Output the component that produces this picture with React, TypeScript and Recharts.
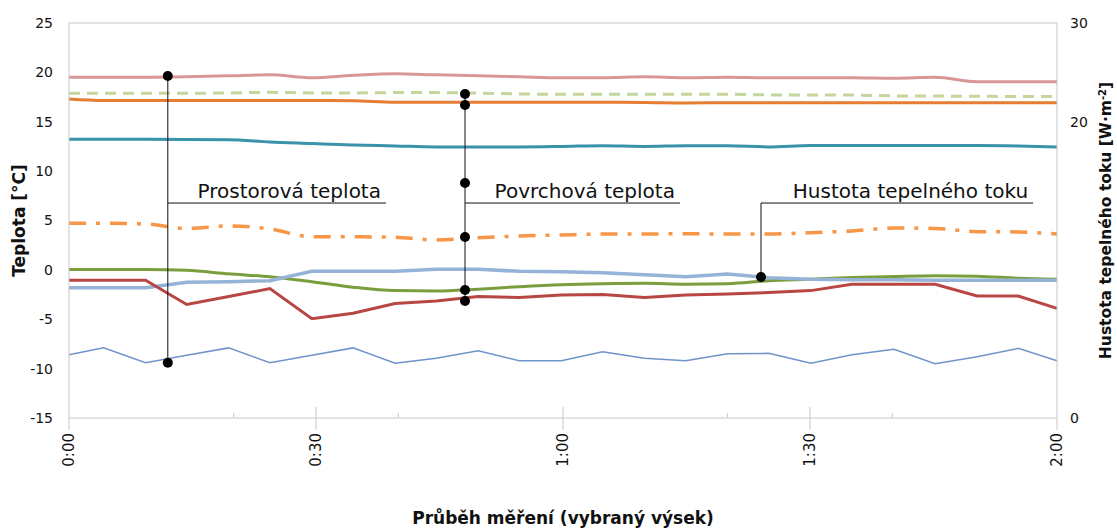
import { LineChart, Line, XAxis, YAxis, ReferenceLine, ReferenceDot, Label } from "recharts";

const FONT = "'DejaVu Sans', Verdana, sans-serif";
const AXIS = "#c6c6c6";

// measurement times in minutes (0:00 – 2:00)
const minutes = [0, 4.2, 9.3, 14.3, 19.4, 24.4, 29.5, 34.5, 39.6, 44.6, 49.7, 54.7, 59.8, 64.8, 69.9, 74.9, 80.0, 85.0, 90.1, 95.1, 100.2, 105.2, 110.3, 115.3, 120];

// temperatures [°C]
const airInside = [19.5, 19.5, 19.5, 19.55, 19.65, 19.75, 19.45, 19.7, 19.85, 19.75, 19.65, 19.55, 19.45, 19.45, 19.55, 19.45, 19.5, 19.45, 19.45, 19.45, 19.4, 19.5, 19.05, 19.05, 19.05];
const surfaceA = [17.88, 17.88, 17.88, 17.88, 17.92, 17.98, 17.92, 17.92, 17.95, 17.95, 17.9, 17.82, 17.78, 17.78, 17.78, 17.78, 17.78, 17.72, 17.72, 17.7, 17.62, 17.6, 17.58, 17.56, 17.56];
const surfaceB = [17.3, 17.15, 17.15, 17.15, 17.15, 17.15, 17.15, 17.12, 16.98, 16.97, 16.97, 16.97, 16.97, 16.97, 16.95, 16.9, 16.93, 16.93, 16.93, 16.93, 16.93, 16.93, 16.93, 16.93, 16.93];
const surfaceC = [13.22, 13.22, 13.22, 13.2, 13.18, 12.95, 12.8, 12.65, 12.55, 12.45, 12.45, 12.45, 12.5, 12.58, 12.5, 12.58, 12.58, 12.45, 12.6, 12.6, 12.6, 12.6, 12.6, 12.55, 12.45];
const surfaceD = [4.72, 4.72, 4.65, 4.2, 4.45, 4.15, 3.35, 3.35, 3.3, 3.03, 3.26, 3.43, 3.53, 3.63, 3.63, 3.66, 3.63, 3.63, 3.77, 3.94, 4.24, 4.2, 3.87, 3.84, 3.63];
const surfaceE = [0.05, 0.05, 0.05, -0.05, -0.4, -0.7, -1.2, -1.75, -2.1, -2.15, -1.95, -1.7, -1.5, -1.4, -1.35, -1.45, -1.4, -1.1, -0.95, -0.78, -0.67, -0.59, -0.65, -0.85, -0.96];
const surfaceF = [-1.05, -1.05, -1.05, -3.5, -2.7, -1.9, -4.95, -4.4, -3.4, -3.15, -2.7, -2.8, -2.55, -2.5, -2.8, -2.55, -2.45, -2.3, -2.1, -1.45, -1.45, -1.45, -2.65, -2.65, -3.9];
const airOutside = [-8.6, -7.9, -9.4, -8.65, -7.9, -9.4, -8.65, -7.9, -9.45, -8.95, -8.2, -9.2, -9.2, -8.3, -8.95, -9.2, -8.5, -8.45, -9.45, -8.6, -8.05, -9.5, -8.8, -7.95, -9.2];
// heat flux [W·m-2], right axis
const heatFlux = [9.9, 9.9, 9.9, 10.31, 10.35, 10.43, 11.14, 11.14, 11.14, 11.29, 11.29, 11.14, 11.1, 11.03, 10.88, 10.73, 10.94, 10.65, 10.53, 10.5, 10.5, 10.46, 10.46, 10.46, 10.46];

const leftTicks = [-15, -10, -5, 0, 5, 10, 15, 20, 25];
// right axis labels sit where the original chart prints them
const rightTicks = [0, 22.5, 30];
const rightTickLabels = ["0", "20", "30"];
const xMajor = [0, 30, 60, 90, 120];
const xMajorLabels = ["0:00", "0:30", "1:00", "1:30", "2:00"];
const xMinor = [20, 40, 80, 100];

// annotation callouts (minutes, °C)
const roomMark = { t: 12, top: 19.63, bottom: -9.4, end: 38.5, text: "Prostorová teplota" };
const surfMark = { t: 48.1, dots: [17.81, 16.7, 8.8, 3.33, -2.04, -3.15], end: 74.2, text: "Povrchová teplota" };
const fluxMark = { t: 84.05, dot: -0.72, end: 117.1, text: "Hustota tepelného toku" };
const calloutLevel = 6.77;

const data = minutes.map((t, i) => ({
  t,
  airInside: airInside[i],
  surfaceA: surfaceA[i],
  surfaceB: surfaceB[i],
  surfaceC: surfaceC[i],
  surfaceD: surfaceD[i],
  surfaceE: surfaceE[i],
  surfaceF: surfaceF[i],
  airOutside: airOutside[i],
  heatFlux: heatFlux[i],
}));

const XTick = (props: any) => {
  const { x, y, payload } = props;
  const v = payload.value;
  const idx = xMajor.indexOf(v);
  if (idx < 0) return <line x1={x} x2={x} y1={y - 5} y2={y} stroke={AXIS} />;
  const edge = v === 0 || v === 120;
  return (
    <g>
      <line x1={x} x2={x} y1={edge ? y : y - 11} y2={y + 12} stroke={AXIS} />
      <text transform={`translate(${x + 5},${y + 15}) rotate(-90)`} textAnchor="end" fontSize={15} fontFamily={FONT} fill="#111">
        {xMajorLabels[idx]}
      </text>
    </g>
  );
};

const calloutLabel = (text: string) => ({
  value: text,
  position: "insideBottomRight" as const,
  offset: 5,
  fontSize: 20,
  fontFamily: FONT,
  fill: "#111",
});

export default function App() {
  return (
    <div style={{ position: "absolute", left: 0, top: 0, background: "#fff" }}>
      <LineChart width={1117} height={530} data={data} margin={{ top: 23, right: 0, bottom: 0, left: 0 }}>
        <XAxis
          dataKey="t"
          type="number"
          domain={[0, 120]}
          ticks={[...xMajor, ...xMinor].sort((a, b) => a - b)}
          interval={0}
          height={112}
          tickSize={0}
          tickMargin={0}
          tickLine={false}
          axisLine={{ stroke: AXIS }}
          tick={<XTick />}
        >
          <Label
            content={(p: any) => {
              const vb = p.viewBox || { x: 69, y: 418, width: 988, height: 112 };
              return (
                <text x={vb.x + vb.width / 2} y={vb.y + 106} textAnchor="middle" fontSize={17} fontWeight="bold" fontFamily={FONT} fill="#111">
                  Průběh měření (vybraný výsek)
                </text>
              );
            }}
          />
        </XAxis>
        <YAxis
          yAxisId="left"
          domain={[-15, 25]}
          ticks={leftTicks}
          interval={0}
          width={69}
          tickSize={0}
          tickMargin={16}
          tickLine={false}
          axisLine={{ stroke: AXIS }}
          tick={{ fontSize: 14, fontFamily: FONT, fill: "#111" }}
        >
          <Label
            content={(p: any) => {
              const vb = p.viewBox || { x: 0, y: 23, width: 69, height: 395 };
              const cx = vb.x + 25;
              const cy = vb.y + vb.height / 2;
              return (
                <text transform={`translate(${cx},${cy}) rotate(-90)`} textAnchor="middle" fontSize={17} fontWeight="bold" fontFamily={FONT} fill="#111">
                  Teplota [°C]
                </text>
              );
            }}
          />
        </YAxis>
        <YAxis
          yAxisId="right"
          orientation="right"
          domain={[0, 30]}
          ticks={rightTicks}
          tickFormatter={(v: number) => rightTickLabels[rightTicks.indexOf(v)] ?? String(v)}
          interval={0}
          width={60}
          tickSize={0}
          tickMargin={13}
          tickLine={false}
          axisLine={{ stroke: AXIS }}
          tick={{ fontSize: 14, fontFamily: FONT, fill: "#111" }}
        >
          <Label
            content={(p: any) => {
              const vb = p.viewBox || { x: 1057, y: 23, width: 60, height: 395 };
              const cx = vb.x + 54;
              const cy = vb.y + vb.height / 2;
              return (
                <text transform={`translate(${cx},${cy}) rotate(-90)`} textAnchor="middle" fontSize={15.5} fontWeight="bold" fontFamily={FONT} fill="#111">
                  Hustota tepelného toku [W·m<tspan dy={-5} fontSize={10}>-2</tspan><tspan dy={5}>]</tspan>
                </text>
              );
            }}
          />
        </YAxis>

        <ReferenceLine yAxisId="left" y={25} stroke={AXIS} />

        <Line yAxisId="left" dataKey="airInside" type="monotone" stroke="#d99694" strokeWidth={3} dot={false} isAnimationActive={false} />
        <Line yAxisId="left" dataKey="surfaceA" type="monotone" stroke="#c3d69b" strokeWidth={3} strokeDasharray="11 7" dot={false} isAnimationActive={false} />
        <Line yAxisId="left" dataKey="surfaceB" type="monotone" stroke="#e57e32" strokeWidth={3} dot={false} isAnimationActive={false} />
        <Line yAxisId="left" dataKey="surfaceC" type="monotone" stroke="#3a92ab" strokeWidth={3} dot={false} isAnimationActive={false} />
        <Line yAxisId="left" dataKey="surfaceD" type="monotone" stroke="#f79646" strokeWidth={3.5} strokeDasharray="17 10 4 10" dot={false} isAnimationActive={false} />
        <Line yAxisId="left" dataKey="surfaceE" type="monotone" stroke="#7a9e3e" strokeWidth={3} dot={false} isAnimationActive={false} />
        <Line yAxisId="right" dataKey="heatFlux" type="linear" stroke="#95b3d7" strokeWidth={3.5} dot={false} isAnimationActive={false} />
        <Line yAxisId="left" dataKey="surfaceF" type="linear" stroke="#b84744" strokeWidth={3} dot={false} isAnimationActive={false} />
        <Line yAxisId="left" dataKey="airOutside" type="linear" stroke="#6f94cc" strokeWidth={1.5} dot={false} isAnimationActive={false} />

        {/* Prostorová teplota */}
        <ReferenceLine yAxisId="left" segment={[{ x: roomMark.t, y: roomMark.top }, { x: roomMark.t, y: roomMark.bottom }]} stroke="#111" />
        <ReferenceLine yAxisId="left" segment={[{ x: roomMark.t, y: calloutLevel }, { x: roomMark.end, y: calloutLevel }]} stroke="#111" label={calloutLabel(roomMark.text)} />
        <ReferenceDot yAxisId="left" x={roomMark.t} y={roomMark.top} r={5} fill="#000" stroke="none" />
        <ReferenceDot yAxisId="left" x={roomMark.t} y={roomMark.bottom} r={5} fill="#000" stroke="none" />

        {/* Povrchová teplota */}
        <ReferenceLine yAxisId="left" segment={[{ x: surfMark.t, y: surfMark.dots[0] }, { x: surfMark.t, y: surfMark.dots[surfMark.dots.length - 1] }]} stroke="#111" />
        <ReferenceLine yAxisId="left" segment={[{ x: surfMark.t, y: calloutLevel }, { x: surfMark.end, y: calloutLevel }]} stroke="#111" label={calloutLabel(surfMark.text)} />
        {surfMark.dots.map((v, i) => (
          <ReferenceDot key={i} yAxisId="left" x={surfMark.t} y={v} r={5} fill="#000" stroke="none" />
        ))}

        {/* Hustota tepelného toku */}
        <ReferenceLine yAxisId="left" segment={[{ x: fluxMark.t, y: fluxMark.dot }, { x: fluxMark.t, y: calloutLevel }]} stroke="#111" />
        <ReferenceLine yAxisId="left" segment={[{ x: fluxMark.t, y: calloutLevel }, { x: fluxMark.end, y: calloutLevel }]} stroke="#111" label={calloutLabel(fluxMark.text)} />
        <ReferenceDot yAxisId="left" x={fluxMark.t} y={fluxMark.dot} r={5} fill="#000" stroke="none" />
      </LineChart>
    </div>
  );
}
